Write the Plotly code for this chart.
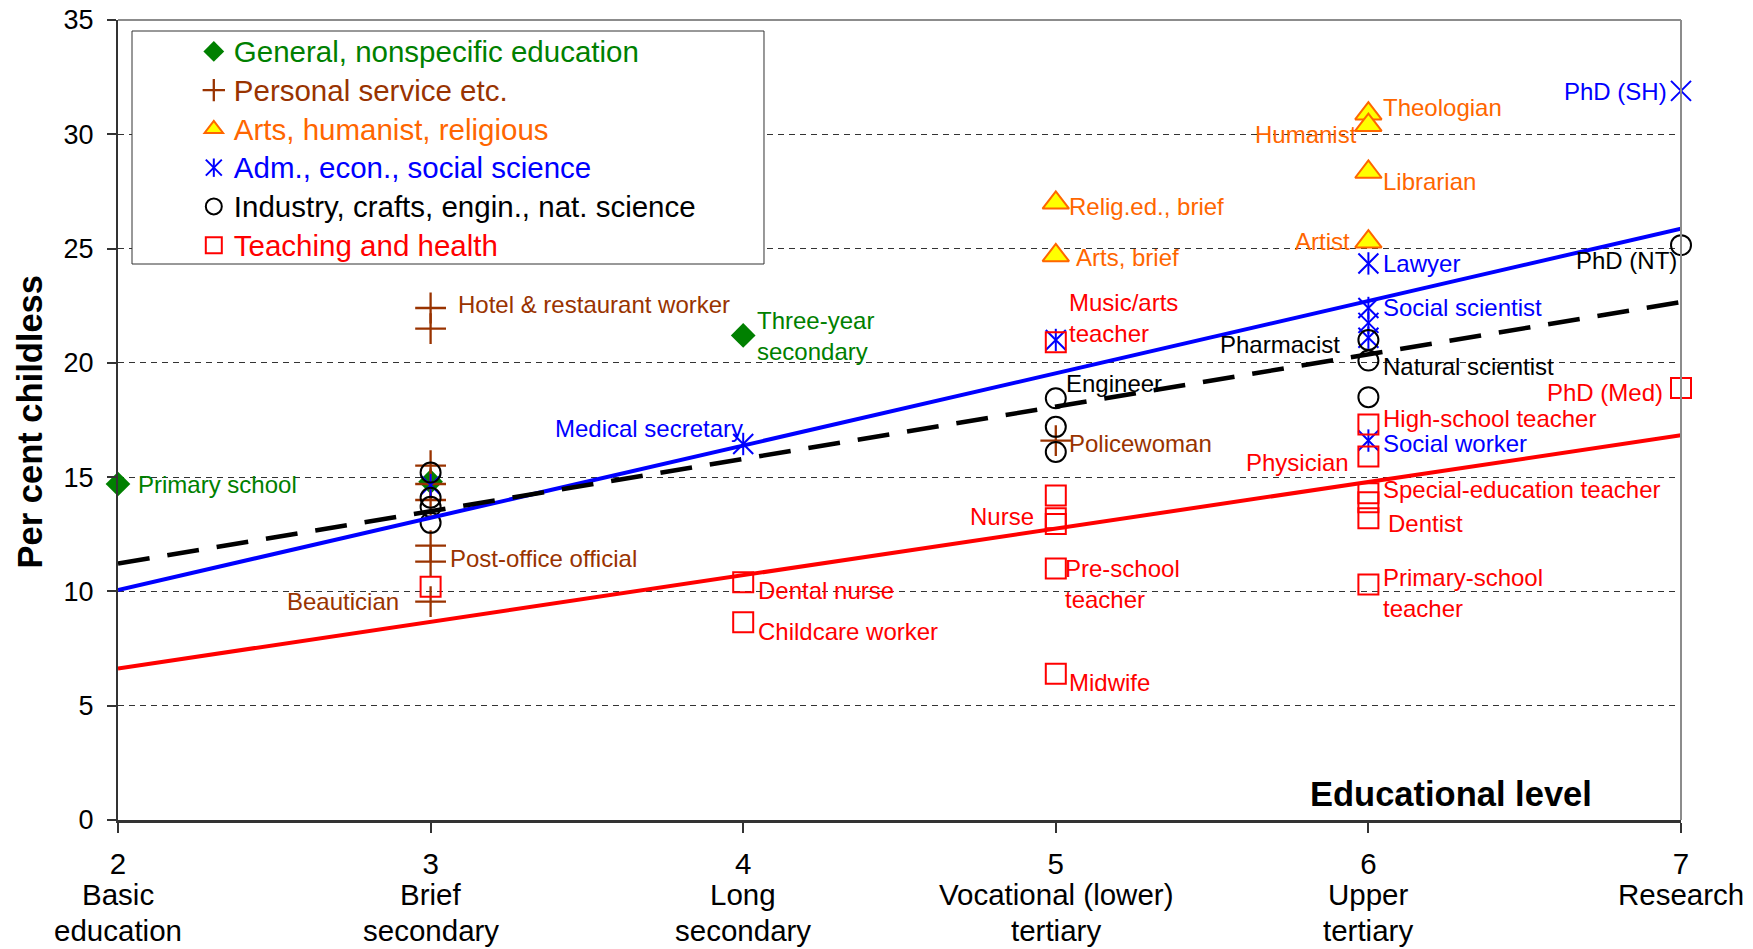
import plotly.graph_objects as go

FONT = "Liberation Sans, Arial, Helvetica, sans-serif"

# ---------------- data ----------------
levels = [2, 3, 4, 5, 6, 7]
level_line1 = ["Basic", "Brief", "Long", "Vocational (lower)", "Upper", "Research"]
level_line2 = ["education", "secondary", "secondary", "tertiary", "tertiary", ""]
y_ticks = [0, 5, 10, 15, 20, 25, 30, 35]

general_x = [2, 3, 4]
general_y = [14.7, 14.8, 21.2]

personal_x = [3, 3, 3, 3, 3, 3, 3, 3, 5]
personal_y = [22.4, 21.5, 15.5, 14.7, 14.0, 12.0, 11.3, 9.55, 16.6]

arts_x = [5, 5, 6, 6, 6, 6]
arts_y = [27.0, 24.7, 30.9, 30.4, 28.35, 25.3]

adm_x = [3, 4, 5, 6, 6, 6, 6, 6, 7]
adm_y = [14.65, 16.45, 21.0, 24.35, 22.4, 21.75, 21.1, 16.6, 31.9]

industry_x = [3, 3, 3, 3, 5, 5, 5, 6, 6, 6, 7]
industry_y = [15.2, 14.1, 13.7, 13.0, 18.45, 17.2, 16.1, 21.0, 20.1, 18.5, 25.15]

teach_x = [3, 4, 4, 5, 5, 5, 5, 5, 5, 6, 6, 6, 6, 6, 6, 7]
teach_y = [10.2, 10.4, 8.65, 20.9, 14.2, 13.2, 12.95, 11.0, 6.4,
           17.3, 15.9, 14.3, 13.9, 13.2, 10.3, 18.9]

trend_x = [2, 7]
trend_all = [11.22, 22.66]
trend_adm = [10.06, 25.87]
trend_teach = [6.63, 16.83]

label_text = ["Primary school", "Hotel & restaurant worker", "Three-year<br>secondary",
              "Medical secretary", "Post-office official", "Beautician",
              "Dental nurse", "Childcare worker", "Relig.ed., brief", "Arts, brief",
              "Music/arts<br>teacher", "Engineer", "Policewoman", "Nurse",
              "Pre-school<br>teacher", "Midwife", "Theologian", "Humanist", "Librarian",
              "Artist", "Lawyer", "Social scientist", "Pharmacist", "Natural scientist",
              "High-school teacher", "Social worker", "Physician",
              "Special-education teacher", "Dentist", "Primary-school<br>teacher",
              "PhD (SH)", "PhD (NT)", "PhD (Med)"]
label_x = [2.061, 3.085, 4.04, 4.004, 3.06, 2.902, 4.044, 4.044, 5.038, 5.063,
           5.038, 5.031, 5.038, 4.934, 5.027, 5.038, 6.043, 5.968, 6.043, 5.943,
           6.043, 6.043, 5.911, 6.043, 6.043, 6.043, 5.94, 6.043, 6.061, 6.043,
           6.959, 6.991, 6.945]
label_y = [14.68, 22.57, 21.18, 17.11, 11.46, 9.56, 10.04, 8.24, 26.86, 24.62,
           21.96, 19.11, 16.48, 13.26, 10.31, 6.0, 31.16, 29.98, 27.94, 25.31,
           24.33, 22.43, 20.82, 19.84, 17.55, 16.48, 15.65, 14.48, 12.97, 9.92,
           31.89, 24.48, 18.72]
label_side = ["left", "left", "left", "right", "left", "right", "left", "left", "left",
              "left", "left", "left", "left", "right", "left", "left", "left", "right",
              "left", "right", "left", "left", "right", "left", "left", "left", "right",
              "left", "left", "left", "right", "right", "right"]
label_group = ["gen", "per", "gen", "adm", "per", "per", "tea", "tea", "art", "art",
               "tea", "ind", "per", "tea", "tea", "tea", "art", "art", "art", "art",
               "adm", "adm", "ind", "ind", "tea", "adm", "tea", "tea", "tea", "tea",
               "adm", "ind", "tea"]

colors = {"gen": "#008000", "per": "#993300", "art": "#FF6600",
          "adm": "#0000FF", "ind": "#000000", "tea": "#FF0000"}
names = {"gen": "General, nonspecific education", "per": "Personal service etc.",
         "art": "Arts, humanist, religious", "adm": "Adm., econ., social science",
         "ind": "Industry, crafts, engin., nat. science", "tea": "Teaching and health"}


def lname(k):
    return '<span style="color:%s;font-size:29.5px">%s</span>' % (colors[k], names[k])


fig = go.Figure()

fig.add_trace(go.Scatter(x=general_x, y=general_y, mode="markers", name=lname("gen"),
                         cliponaxis=False,
                         marker=dict(symbol="diamond", size=19, color=colors["gen"],
                                     line=dict(width=0))))
fig.add_trace(go.Scatter(x=personal_x, y=personal_y, mode="markers", name=lname("per"),
                         cliponaxis=False,
                         marker=dict(symbol="cross-thin", size=22,
                                     line=dict(width=2.3, color=colors["per"]))))
fig.add_trace(go.Scatter(x=arts_x, y=arts_y, mode="markers", name=lname("art"),
                         cliponaxis=False,
                         marker=dict(symbol="triangle-up", size=23, color="#FFFF00",
                                     line=dict(width=2, color=colors["art"]))))
fig.add_trace(go.Scatter(x=adm_x, y=adm_y, mode="markers", name=lname("adm"),
                         cliponaxis=False,
                         marker=dict(symbol="x-thin", size=20,
                                     line=dict(width=2, color=colors["adm"]))))
fig.add_trace(go.Scatter(x=adm_x, y=adm_y, mode="markers", showlegend=False,
                         cliponaxis=False,
                         marker=dict(symbol="line-ns", size=16,
                                     line=dict(width=2, color=colors["adm"]))))
fig.add_trace(go.Scatter(x=industry_x, y=industry_y, mode="markers", name=lname("ind"),
                         cliponaxis=False,
                         marker=dict(symbol="circle-open", size=20, color=colors["ind"],
                                     line=dict(width=2, color=colors["ind"]))))
fig.add_trace(go.Scatter(x=teach_x, y=teach_y, mode="markers", name=lname("tea"),
                         cliponaxis=False,
                         marker=dict(symbol="square-open", size=20, color=colors["tea"],
                                     line=dict(width=2, color=colors["tea"]))))

# trend lines
fig.add_trace(go.Scatter(x=trend_x, y=trend_adm, mode="lines", showlegend=False,
                         line=dict(color="#0000FF", width=4), cliponaxis=False))
fig.add_trace(go.Scatter(x=trend_x, y=trend_teach, mode="lines", showlegend=False,
                         line=dict(color="#FF0000", width=4), cliponaxis=False))
fig.add_trace(go.Scatter(x=trend_x, y=trend_all, mode="lines", showlegend=False,
                         line=dict(color="#000000", width=4.5, dash="32px,18px"),
                         cliponaxis=False))

annotations = []
for t, x, y, s, g in zip(label_text, label_x, label_y, label_side, label_group):
    annotations.append(dict(x=x, y=y, xref="x", yref="y", text=t, showarrow=False,
                            xanchor=s, yanchor="middle", align="left", borderpad=0,
                            font=dict(family=FONT, size=24, color=colors[g])))

# level names under the tick numbers
for v, a, b in zip(levels, level_line1, level_line2):
    annotations.append(dict(x=v, y=-0.0925, xref="x", yref="paper", text=a,
                            showarrow=False, xanchor="center", yanchor="middle",
                            font=dict(family=FONT, size=29.5, color="black")))
    if b:
        annotations.append(dict(x=v, y=-0.1375, xref="x", yref="paper", text=b,
                                showarrow=False, xanchor="center", yanchor="middle",
                                font=dict(family=FONT, size=29.5, color="black")))

annotations.append(dict(x=-0.0563, y=0.497, xref="paper", yref="paper",
                        text="<b>Per cent childless</b>", textangle=-90, showarrow=False,
                        xanchor="center", yanchor="middle",
                        font=dict(family=FONT, size=34.5, color="black")))
annotations.append(dict(x=0.853, y=0.0325, xref="paper", yref="paper",
                        text="<b>Educational level</b>", showarrow=False,
                        xanchor="center", yanchor="middle",
                        font=dict(family=FONT, size=34.5, color="black")))

LEG_X = 0.0485
shapes = [
    # legend box
    dict(type="rect", xref="paper", yref="paper", x0=0.00896, x1=0.4133, y0=0.695,
         y1=0.98625, fillcolor="white", line=dict(color="#333333", width=1),
         layer="above"),
    # vertical stroke completing the asterisk legend symbol
    dict(type="line", xref="paper", yref="paper", x0=0.0613, x1=0.0613,
         y0=0.8154 - 0.0115, y1=0.8154 + 0.0115,
         line=dict(color=colors["adm"], width=2), layer="above"),
    # top and right frame
    dict(type="line", xref="paper", yref="paper", x0=0, x1=1, y0=1, y1=1,
         line=dict(color="#8c8c8c", width=2)),
    dict(type="line", xref="paper", yref="paper", x0=1, x1=1, y0=0, y1=1,
         line=dict(color="#8c8c8c", width=2)),
]

# the page adds an 8px body margin, so the figure is 8px smaller on each side
fig.update_layout(
    width=1745, height=941,
    margin=dict(l=110, r=72, t=12, b=129),
    paper_bgcolor="white", plot_bgcolor="white",
    font=dict(family=FONT, color="black"),
    showlegend=True,
    legend=dict(x=LEG_X, y=0.99125, xref="paper", yref="paper", xanchor="left",
                yanchor="top", bgcolor="rgba(0,0,0,0)", borderwidth=0,
                font=dict(family=FONT, size=27.5), itemclick=False,
                traceorder="normal"),
    annotations=annotations,
    shapes=shapes,
    xaxis=dict(range=[2, 7], tickmode="array", tickvals=levels,
               ticktext=[str(v) for v in levels], automargin=False,
               ticklabeloverflow="allow",
               tickfont=dict(family=FONT, size=29.5, color="black"),
               showgrid=False, zeroline=False, showline=True, linecolor="#333333",
               linewidth=2.5, ticks="outside", ticklen=10, tickcolor="#333333",
               tickwidth=1.5, ticklabelstandoff=6),
    yaxis=dict(range=[0, 35], tickmode="array", tickvals=y_ticks, automargin=False,
               ticklabeloverflow="allow",
               tickfont=dict(family=FONT, size=27, color="black"),
               showgrid=True, gridcolor="#333333", gridwidth=1, griddash="6px,5px",
               zeroline=False, showline=True, linecolor="#333333", linewidth=2,
               ticks="outside", ticklen=9, tickcolor="#333333", tickwidth=1.5,
               ticklabelstandoff=8),
)

fig.write_html("out.html")
